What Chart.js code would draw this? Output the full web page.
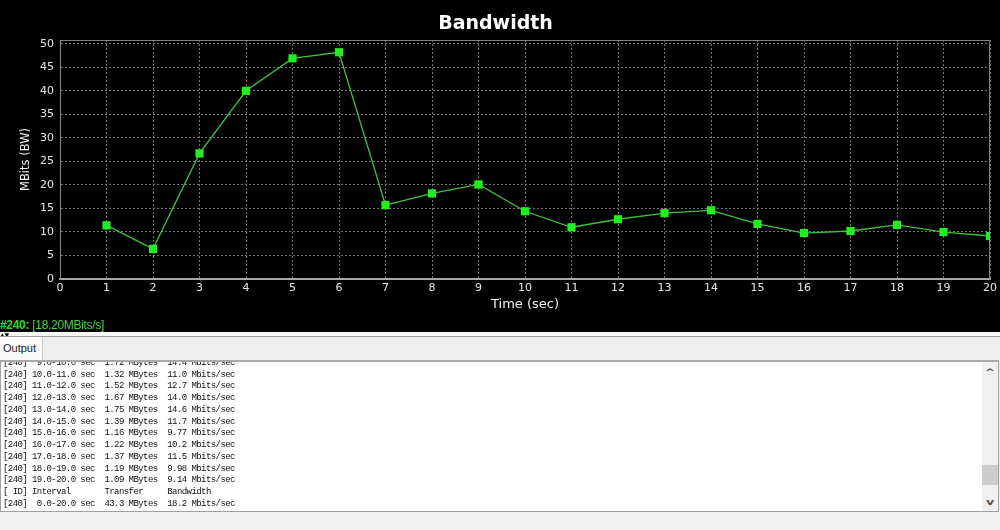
<!DOCTYPE html>
<html><head><meta charset="utf-8">
<script src="https://cdn.jsdelivr.net/npm/chart.js@4"></script>
<style>
html,body{margin:0;padding:0;background:#000;width:1000px;height:530px;overflow:hidden}
#wrap{position:relative;width:1000px;height:530px;background:#000}
#c{position:absolute;left:0;top:0}
#status{position:absolute;left:0;top:318px;height:14px;font:12px "Liberation Sans",Arial,sans-serif;line-height:14px;color:#44d444;white-space:nowrap;letter-spacing:-0.3px}
#status b{color:#22e022}
#panel{position:absolute;left:0;top:332px;width:1000px;height:198px;background:#f0f0f0}
#split{position:absolute;left:0;top:0;width:1000px;height:4px;background:#f8f8f8;border-bottom:1px solid #9c9c9c;font:6px "DejaVu Sans",sans-serif;line-height:5px;color:#000;overflow:hidden}
#tabs{position:absolute;left:0;top:5px;width:1000px;height:23px;background:#eeeeee}
#tab{position:absolute;left:0;top:0;width:42px;height:23px;background:#fafafa;border-right:1px solid #c8c8c8;font:11px "Liberation Sans",Arial,sans-serif;line-height:22px;color:#222;text-indent:3px}
#box{position:absolute;left:0;top:28px;width:997px;height:149px;background:#fff;border:1px solid #a0a0a0;border-top:2px solid #a8a8a8;overflow:hidden}
#log{position:absolute;left:2px;top:-4px;font:9px "Liberation Mono","Courier New",monospace;letter-spacing:-0.57px;line-height:11.73px;color:#111;white-space:pre}
#sb{position:absolute;right:0;top:0;width:16px;height:149px;background:#f0f0f0}
#sb .up,#sb .dn{position:absolute;left:0;width:16px;height:12px;text-align:center;font:bold 9px "DejaVu Sans",sans-serif;line-height:12px;color:#555;transform:scaleX(1.4)}
#sb .up{top:4px}
#sb .dn{top:134px}
#thumb{position:absolute;left:0;top:103px;width:16px;height:20px;background:#cdcdcd}
</style></head>
<body>
<div id="wrap">
<canvas id="c" width="1000" height="320"></canvas>
<div id="status"><b>#240:</b> [18.20MBits/s]</div>
<div id="panel">
  <div id="split">&#9650;&#9660;</div>
  <div id="tabs"><div id="tab">Output</div></div>
  <div id="box"><div id="log"></div>
    <div id="sb"><div class="up">^</div><div id="thumb"></div><div class="dn">v</div></div>
  </div>
</div>
</div>
<script>
const chartTitle = 'Bandwidth';
const xTitle = 'Time (sec)';
const yTitle = 'MBits (BW)';
const times = [1,2,3,4,5,6,7,8,9,10,11,12,13,14,15,16,17,18,19,20];
const bandwidth = [11.4,6.4,26.7,40.0,46.9,48.2,15.7,18.2,20.1,14.4,11.0,12.7,14.0,14.6,11.7,9.77,10.2,11.5,9.98,9.14];
const xRange = [0, 20];
const xStep = 1;
const yRange = [0, 50.8];
const yStep = 5;
const logLines = [
"[240]  9.0-10.0 sec  1.72 MBytes  14.4 Mbits/sec",
"[240] 10.0-11.0 sec  1.32 MBytes  11.0 Mbits/sec",
"[240] 11.0-12.0 sec  1.52 MBytes  12.7 Mbits/sec",
"[240] 12.0-13.0 sec  1.67 MBytes  14.0 Mbits/sec",
"[240] 13.0-14.0 sec  1.75 MBytes  14.6 Mbits/sec",
"[240] 14.0-15.0 sec  1.39 MBytes  11.7 Mbits/sec",
"[240] 15.0-16.0 sec  1.16 MBytes  9.77 Mbits/sec",
"[240] 16.0-17.0 sec  1.22 MBytes  10.2 Mbits/sec",
"[240] 17.0-18.0 sec  1.37 MBytes  11.5 Mbits/sec",
"[240] 18.0-19.0 sec  1.19 MBytes  9.98 Mbits/sec",
"[240] 19.0-20.0 sec  1.09 MBytes  9.14 Mbits/sec",
"[ ID] Interval       Transfer     Bandwidth",
"[240]  0.0-20.0 sec  43.3 MBytes  18.2 Mbits/sec"
];
document.getElementById('log').textContent = logLines.join('\n');

const frame = {
  id: 'frame',
  beforeDatasetsDraw(chart) {
    const {ctx, chartArea: a} = chart;
    ctx.save();
    ctx.strokeStyle = '#808080';
    ctx.lineWidth = 1;
    ctx.setLineDash([]);
    ctx.beginPath();
    ctx.moveTo(a.left, a.top + 0.5);
    ctx.lineTo(a.right - 0.5, a.top + 0.5);
    ctx.lineTo(a.right - 0.5, a.bottom);
    ctx.stroke();
    ctx.restore();
  }
};

const tickFont = {family: 'DejaVu Sans', size: 11};
new Chart(document.getElementById('c'), {
  type: 'line',
  data: {
    datasets: [{
      data: times.map((t, i) => ({x: t, y: bandwidth[i]})),
      borderColor: '#40c040',
      borderWidth: 1.3,
      pointStyle: 'rect',
      pointRadius: 5.8,
      pointBackgroundColor: '#22ee22',
      pointBorderColor: '#22ee22',
      pointBorderWidth: 0,
      tension: 0,
      fill: false,
      clip: {left: 8, top: 8, right: 0, bottom: 8}
    }]
  },
  options: {
    responsive: false,
    devicePixelRatio: 1,
    animation: false,
    layout: {padding: {left: 0, right: 9, top: 0, bottom: 0}},
    plugins: {
      legend: {display: false},
      tooltip: {enabled: false},
      title: {
        display: true, text: chartTitle, color: '#ffffff',
        font: {family: 'DejaVu Sans', size: 19, weight: 'bold'},
        padding: {top: 12.6, bottom: 4.6}
      }
    },
    scales: {
      x: {
        type: 'linear', min: xRange[0], max: xRange[1],
        ticks: {stepSize: xStep, color: '#e6e6e6', font: tickFont, padding: 3, maxRotation: 0, autoSkip: false},
        grid: {color: '#747474', lineWidth: 1, drawTicks: false},
        border: {display: true, color: '#a8a8a8', width: 2, dash: [2, 2]},
        title: {display: true, text: xTitle, color: '#f0f0f0', font: {family: 'DejaVu Sans', size: 13}, padding: {top: 0, bottom: 7.2}},
        afterFit(s) { s.height = 41; }
      },
      y: {
        type: 'linear', min: yRange[0], max: yRange[1],
        ticks: {stepSize: yStep, includeBounds: false, color: '#e6e6e6', font: tickFont, padding: 6},
        afterBuildTicks(s) { s.ticks = s.ticks.filter(t => Math.abs(t.value / yStep - Math.round(t.value / yStep)) < 1e-6); },
        grid: {color: '#747474', lineWidth: 1, drawTicks: false},
        border: {display: true, color: '#8a8a8a', width: 1, dash: [2, 2]},
        title: {display: true, text: yTitle, color: '#f0f0f0', font: {family: 'DejaVu Sans', size: 11.5}, padding: {top: 19.4, bottom: 0}},
        afterFit(s) { s.width = 60; }
      }
    }
  },
  plugins: [frame]
});
</script>
</body></html>
